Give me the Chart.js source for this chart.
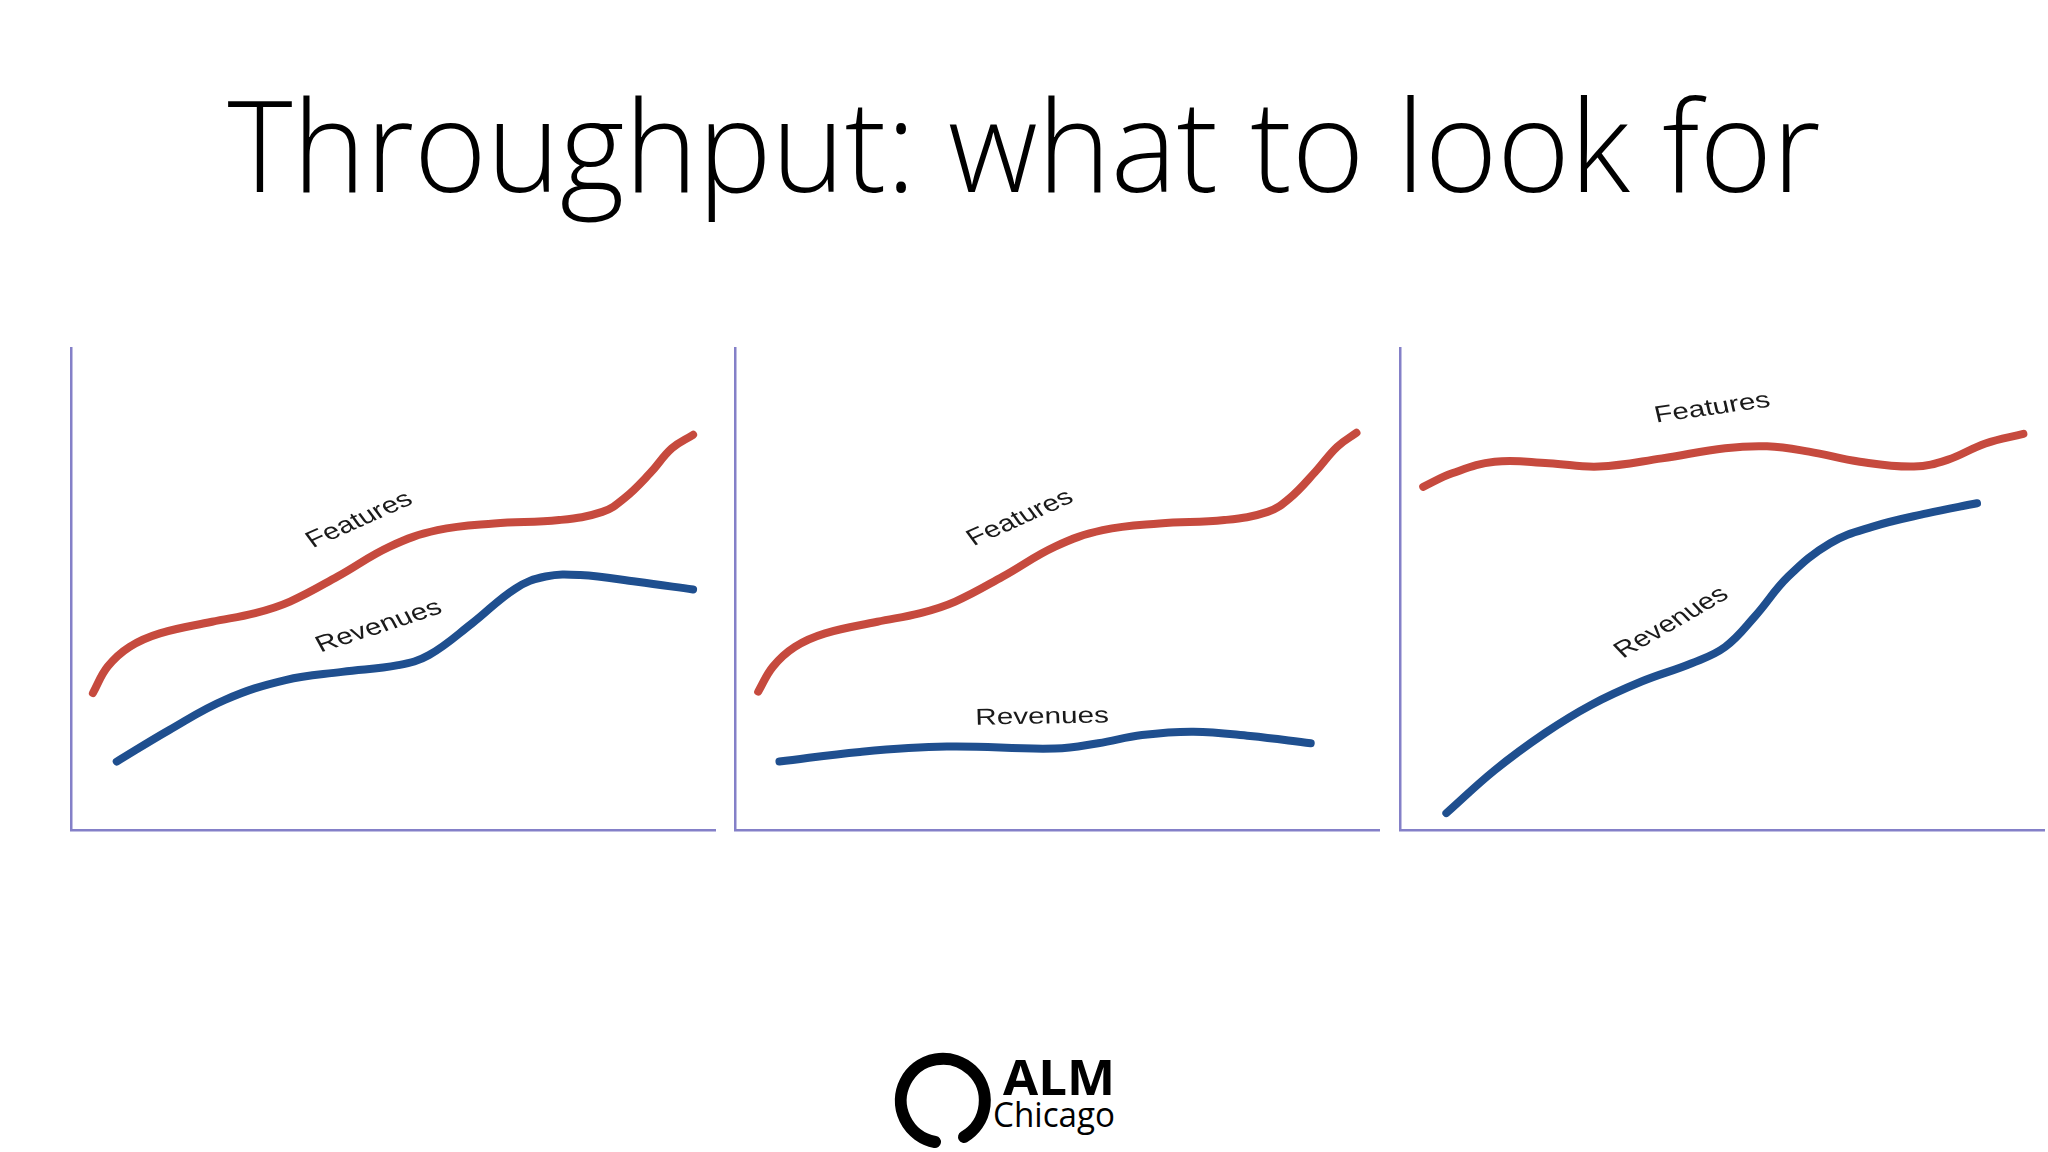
<!DOCTYPE html>
<html>
<head>
<meta charset="utf-8">
<script src="https://cdn.jsdelivr.net/npm/chart.js@4.4.1/dist/chart.umd.min.js"></script>
<style>
  html, body { margin: 0; padding: 0; background: #fff; }
  body { width: 2048px; height: 1152px; position: relative; overflow: hidden; font-family: 'Open Sans', 'Noto Sans', sans-serif; color: #000; }
  .txt { position: absolute; white-space: nowrap; line-height: 1; }
  #title { top: 79px; left: 0; width: 2048px; text-align: center; font-size: 128px; font-weight: 300; }
  #title span { display: inline-block; transform-origin: 50% 50%; }
  .panel { position: absolute; top: 338px; }
  #logo-ring { position: absolute; left: 892px; top: 1050px; }
  #logo-alm { left: 1003px; top: 1052px; font-size: 49px; font-weight: 700; transform-origin: 0 0; }
  #logo-city { left: 993px; top: 1096px; font-size: 35px; font-weight: 400; transform-origin: 0 0; }
</style>
</head>
<body>
<div id="title" class="txt"><span>Throughput: what to look for</span></div>

<canvas id="chart1" class="panel" width="664" height="502" style="left:61px"></canvas>
<canvas id="chart2" class="panel" width="664" height="502" style="left:725px"></canvas>
<canvas id="chart3" class="panel" width="664" height="502" style="left:1390px"></canvas>

<svg id="logo-ring" width="102" height="102" viewBox="0 0 102 102">
  <path d="M 43 92 A 42 42 0 1 1 72 87" fill="none" stroke="#000" stroke-width="12" stroke-linecap="round"/>
</svg>
<div id="logo-alm" class="txt">ALM</div>
<div id="logo-city" class="txt">Chicago</div>

<script>
// --- 차트 1: 기능과 매출이 같이 성장 ---
const p1FeatX = [3.4, 5.7, 9.1, 13.8, 21.9, 28.6, 34.0, 41.4, 49.5, 56.9, 65.7, 75.8, 82.5, 85.9, 89.9, 93.3, 96.6];
const p1FeatY = [28.4, 33.9, 38.0, 40.8, 43.2, 45.0, 47.4, 52.6, 58.8, 62.2, 63.6, 64.3, 66.0, 68.8, 74.0, 79.2, 82.0];
const p1RevX = [7.1, 15.2, 23.9, 33.3, 42.1, 50.8, 55.6, 62.3, 69.0, 73.7, 79.1, 87.9, 96.6];
const p1RevY = [14.2, 20.7, 27.0, 31.1, 32.8, 34.2, 36.3, 42.9, 50.1, 52.6, 52.9, 51.5, 49.9];

// --- 차트 2: 기능만 성장, 매출은 정체 ---
const p2FeatX = [3.6, 5.9, 9.3, 14.0, 22.1, 28.8, 34.2, 41.6, 49.7, 57.1, 65.9, 76.0, 82.7, 86.1, 90.1, 93.5, 96.5];
const p2FeatY = [28.7, 33.9, 38.0, 40.8, 43.2, 45.0, 47.4, 52.6, 58.8, 62.2, 63.6, 64.3, 66.0, 68.8, 74.3, 79.5, 82.4];
const p2RevX = [6.9, 19.4, 32.9, 49.7, 56.4, 63.2, 71.2, 80.0, 89.4];
const p2RevY = [14.2, 16.2, 17.3, 16.9, 18.0, 19.7, 20.4, 19.5, 18.0];

// --- 차트 3: 기능은 정체, 매출은 성장 ---
const p3FeatX = [3.6, 8.1, 14.7, 23.1, 30.9, 40.7, 50.5, 57.0, 63.5, 71.4, 79.8, 85.0, 90.9, 96.8];
const p3FeatY = [71.2, 74.0, 76.4, 76.1, 75.4, 77.1, 79.2, 79.6, 78.5, 76.4, 75.4, 76.8, 80.2, 82.2];
const p3RevX = [7.2, 14.7, 22.5, 29.6, 37.5, 45.3, 50.5, 55.1, 60.3, 66.8, 73.3, 81.8, 89.6];
const p3RevY = [3.5, 12.4, 20.1, 25.9, 30.8, 34.6, 38.0, 44.3, 52.6, 59.5, 62.9, 65.7, 67.8];

// 곡선 이름표 (데이터 좌표 기준)
const p1Labels = [
    { text: 'Features', x: 44.8, y: 64.3, angle: -24 },
    { text: 'Revenues', x: 47.8, y: 42.2, angle: -18 }
];
const p2Labels = [
    { text: 'Features', x: 44.3, y: 64.7, angle: -24 },
    { text: 'Revenues', x: 47.7, y: 23.4, angle: -1 }
];
const p3Labels = [
    { text: 'Features', x: 48.5, y: 87.5, angle: -8 },
    { text: 'Revenues', x: 42.2, y: 43.0, angle: -30 }
];

const RED = '#c64a3e';
const BLUE = '#1f4f8f';
const AXIS = '#8480c8';
const STRETCH = 1.29; // 원본 그림이 가로로 늘어나 있음

const toPoints = (xs, ys) => xs.map((x, i) => ({ x: x, y: ys[i] }));

// 회전된 라벨 그리기
const curveLabels = {
    id: 'curveLabels',
    afterDatasetsDraw(chart, args, opts) {
        const { ctx, scales: { x, y } } = chart;
        (opts.items || []).forEach(it => {
            const rad = Math.atan(Math.tan(it.angle * Math.PI / 180) * STRETCH);
            ctx.save();
            ctx.translate(x.getPixelForValue(it.x), y.getPixelForValue(it.y));
            ctx.scale(STRETCH, 1);
            ctx.rotate(rad);
            ctx.font = '23px "Liberation Sans", Arial, sans-serif';
            ctx.fillStyle = '#1a1a1a';
            ctx.textAlign = 'center';
            ctx.textBaseline = 'middle';
            ctx.fillText(it.text, 0, 0);
            ctx.restore();
        });
    }
};

function makeChart(id, feat, rev, labels) {
    const lineStyle = { borderWidth: 8, tension: 0.4, pointRadius: 0, borderCapStyle: 'round', borderJoinStyle: 'round', fill: false };
    const axis = {
        type: 'linear', min: 0, max: 100,
        grid: { display: false, drawTicks: false },
        ticks: { display: false },
        border: { display: true, color: AXIS, width: 2.5 }
    };
    return new Chart(document.getElementById(id), {
        type: 'line',
        data: {
            datasets: [
                Object.assign({ label: 'Features', data: feat, borderColor: RED }, lineStyle),
                Object.assign({ label: 'Revenues', data: rev, borderColor: BLUE }, lineStyle)
            ]
        },
        options: {
            responsive: false,
            animation: false,
            layout: { padding: 10 },
            plugins: { legend: { display: false }, tooltip: { enabled: false }, curveLabels: { items: labels } },
            scales: { x: axis, y: Object.assign({}, axis) }
        },
        plugins: [curveLabels]
    });
}

makeChart('chart1', toPoints(p1FeatX, p1FeatY), toPoints(p1RevX, p1RevY), p1Labels);
makeChart('chart2', toPoints(p2FeatX, p2FeatY), toPoints(p2RevX, p2RevY), p2Labels);
makeChart('chart3', toPoints(p3FeatX, p3FeatY), toPoints(p3RevX, p3RevY), p3Labels);

// 텍스트 폭 맞추기
function fitWidth(el, target) {
    const w = el.getBoundingClientRect().width;
    if (w > 0) el.style.transform = 'scaleX(' + (target / w) + ')';
}
fitWidth(document.querySelector('#title span'), 1593);
fitWidth(document.getElementById('logo-alm'), 112);
fitWidth(document.getElementById('logo-city'), 122);
</script>
</body>
</html>
